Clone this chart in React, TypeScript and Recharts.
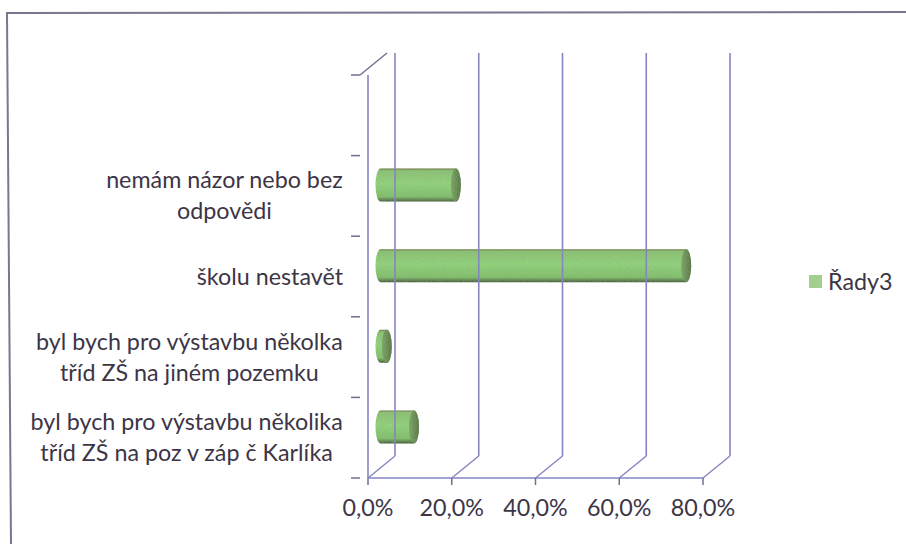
import React from "react";
import { BarChart, Bar, XAxis, YAxis, Legend } from "recharts";

const categories = [
  "",
  "nemám názor nebo bez|odpovědi",
  "školu nestavět",
  "byl bych pro výstavbu několka|tříd ZŠ na jiném pozemku",
  "byl bych pro výstavbu několika|tříd ZŠ na poz v záp č Karlíka",
];
const values = [null, 18, 73, 1.5, 8];
const xTicks = [0, 20, 40, 60, 80];

const data = categories.map((name, i) => ({ name, value: values[i] }));

const GRID = "#8585c2";
const AXIS = "#6f6f8f";
const TEXT = "#3d3546";
const FONT = "Lato, sans-serif";
const FONT_SIZE = 23.3;
const DEPTH_X = 27;
const DEPTH_Y = 22;
const CAP = 5;

function textWidth(s: string) {
  const ctx = document.createElement("canvas").getContext("2d");
  if (!ctx) return s.length * 10;
  ctx.font = `${FONT_SIZE}px ${FONT}`;
  return ctx.measureText(s).width;
}

// x tick: floor slant + back wall line, all hung off the scale position
function XTick({ x, payload }: any) {
  const floorY = 478;
  const plotH = 403;
  return (
    <g>
      <line x1={x} y1={floorY} x2={x} y2={floorY + 7} stroke={AXIS} strokeWidth={1.5} />
      <line x1={x} y1={floorY} x2={x + DEPTH_X} y2={floorY - DEPTH_Y} stroke={GRID} strokeWidth={1.4} />
      <line x1={x + DEPTH_X} y1={floorY - DEPTH_Y} x2={x + DEPTH_X} y2={floorY - DEPTH_Y - plotH} stroke={GRID} strokeWidth={1.6} />
      <text x={x} y={516} textAnchor="middle" fill={TEXT} fontFamily={FONT} fontSize={FONT_SIZE}>
        {`${payload.value.toFixed(1).replace(".", ",")}%`}
      </text>
    </g>
  );
}

function YTick({ x, y, payload, index }: any) {
  const lines = String(payload.value).split("|").filter(Boolean);
  const band = 80.6;
  const right = x - 17;
  const widest = Math.max(0, ...lines.map(textWidth));
  const cx = right - widest / 2;
  const top = y - band / 2;
  return (
    <g>
      <line x1={x - 9} y1={top} x2={x} y2={top} stroke={AXIS} strokeWidth={1.5} />
      {index === categories.length - 1 && (
        <line x1={x - 9} y1={top + band} x2={x} y2={top + band} stroke={AXIS} strokeWidth={1.5} />
      )}
      {index === 0 && (
        <line x1={x} y1={top} x2={x + DEPTH_X} y2={top - DEPTH_Y} stroke={AXIS} strokeWidth={1.4} />
      )}
      {lines.map((l, i) => (
        <text
          key={i}
          x={cx}
          y={y + 8 + (i - (lines.length - 1) / 2) * 31}
          textAnchor="middle"
          fill={TEXT}
          fontFamily={FONT}
          fontSize={FONT_SIZE}
        >
          {l}
        </text>
      ))}
    </g>
  );
}

// cylinder lying on its side, sitting halfway into the chart depth
function Cylinder({ x, y, width, height }: any) {
  if (!height || width == null) return null;
  const left = x + DEPTH_X / 2 - 1;
  const top = y - DEPTH_Y / 2;
  const r = height / 2;
  const right = left + width;
  return (
    <g filter="url(#grain)">
      <path
        d={`M${left},${top} L${right},${top} A${CAP},${r} 0 0 1 ${right},${top + height} L${left},${top + height} A${CAP},${r} 0 0 1 ${left},${top} Z`}
        fill="url(#body)"
      />
      <ellipse cx={right} cy={top + r} rx={CAP} ry={r} fill="url(#cap)" />
    </g>
  );
}

function LegendContent() {
  return (
    <div style={{ display: "flex", alignItems: "center", fontFamily: FONT, fontSize: FONT_SIZE, color: TEXT }}>
      <span style={{ width: 13, height: 13, background: "#a2cf8f", marginRight: 6, display: "inline-block" }} />
      Řady3
    </div>
  );
}

export default function App() {
  return (
    <div style={{ position: "absolute", left: 0, top: 0, width: 906, height: 544, background: "#fff", overflow: "hidden" }}>
      <svg width={906} height={544} style={{ position: "absolute", left: 0, top: 0 }}>
        <polyline points="906,12 7,13 11,544" fill="none" stroke="#77778f" strokeWidth={2} />
      </svg>
      <BarChart
        width={906}
        height={544}
        data={data}
        layout="vertical"
        margin={{ top: 75, right: 113, bottom: 0, left: 0 }}
        barCategoryGap={0}
        style={{ position: "absolute", left: 0, top: 0 }}
      >
        <defs>
          <linearGradient id="body" x1="0" y1="0" x2="0" y2="1">
            <stop offset="0" stopColor="#6a7440" />
            <stop offset="0.06" stopColor="#8cc274" />
            <stop offset="0.45" stopColor="#93d57c" />
            <stop offset="0.85" stopColor="#82c06c" />
            <stop offset="1" stopColor="#46583a" />
          </linearGradient>
          <linearGradient id="cap" x1="0" y1="0" x2="1" y2="0">
            <stop offset="0" stopColor="#7da864" />
            <stop offset="1" stopColor="#566f46" />
          </linearGradient>
          <filter id="grain" x="-5%" y="-5%" width="110%" height="110%">
            <feTurbulence type="fractalNoise" baseFrequency="0.9" numOctaves="2" seed="3" result="n" />
            <feColorMatrix in="n" type="matrix" values="0 0 0 0 0.25  0 0 0 0 0.4  0 0 0 0 0.2  0 0 0 0.9 -0.3" result="speck" />
            <feComposite in="speck" in2="SourceAlpha" operator="in" result="clipped" />
            <feMerge>
              <feMergeNode in="SourceGraphic" />
              <feMergeNode in="clipped" />
            </feMerge>
          </filter>
        </defs>
        <XAxis
          type="number"
          domain={[0, 80]}
          ticks={xTicks}
          tick={<XTick />}
          tickLine={false}
          axisLine={{ stroke: GRID, strokeWidth: 1.4 }}
          height={66}
          interval={0}
        />
        <YAxis
          type="category"
          dataKey="name"
          tick={<YTick />}
          tickLine={false}
          axisLine={{ stroke: GRID, strokeWidth: 1.6 }}
          width={368}
          interval={0}
        />
        <Legend
          layout="vertical"
          align="right"
          verticalAlign="middle"
          content={<LegendContent />}
          wrapperStyle={{ position: "absolute", left: 809, top: 267, width: 90 }}
        />
        <Bar dataKey="value" name="Řady3" barSize={33} shape={<Cylinder />} isAnimationActive={false} />
      </BarChart>
    </div>
  );
}
